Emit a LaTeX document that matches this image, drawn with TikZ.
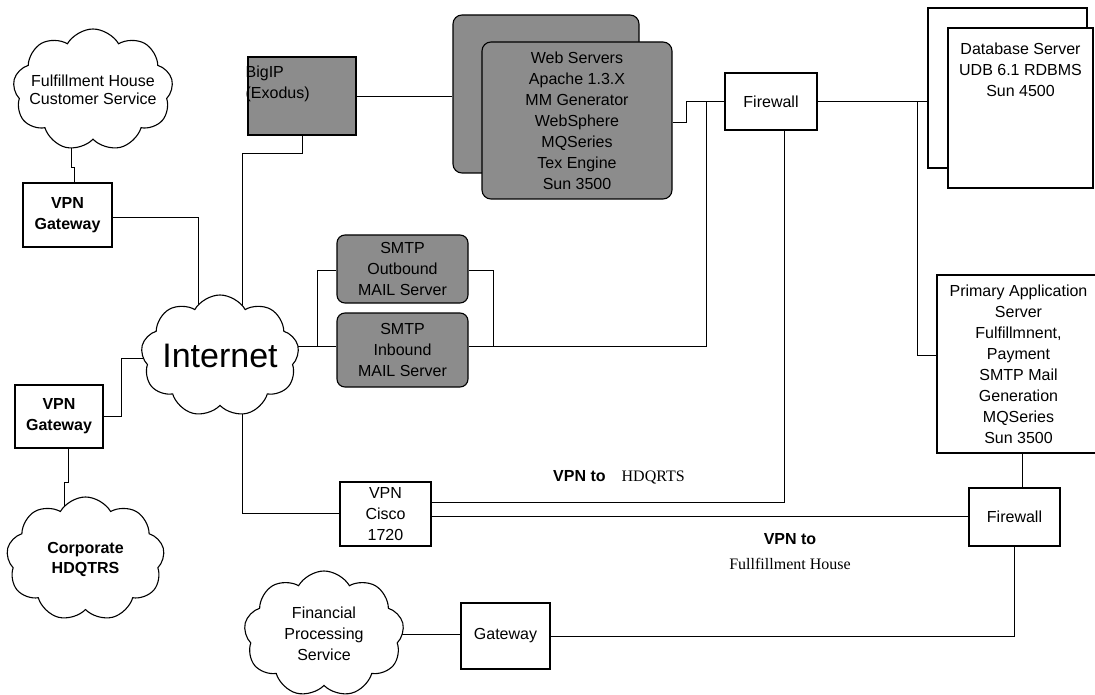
\documentclass[tikz,border=0pt]{standalone}
\usepackage{fontspec}
\setmainfont{Liberation Sans}
\newfontfamily\serifface{Liberation Serif}
\usetikzlibrary{shapes.symbols, backgrounds}
\tikzset{
  netbox/.style={draw, line width=1.1pt, fill=white, inner sep=2pt, align=center,
    font=\fontsize{16}{21}\selectfont},
  shadedbox/.style={netbox, fill=black!45, rounded corners=9pt},
  netcloud/.style={cloud, cloud puffs=9, cloud puff arc=120, cloud ignores aspect,
    draw, line width=1.1pt, fill=white, inner sep=0pt},
  cloudtext/.style={align=center, font=\fontsize{16}{21}\selectfont},
  link/.style={line width=0.9pt}
}

\begin{document}
\begin{tikzpicture}[x=1pt, y=-1pt]
  \useasboundingbox (0,0) rectangle (1095,695);
  % left side
  \node[netcloud, minimum width=160pt, minimum height=122pt,
    label={[cloudtext, font=\fontsize{16}{18}\selectfont]center:Fulfillment House\\Customer Service}] (fhcloud) at (93,90) {};
  \node[netbox, minimum width=89pt, minimum height=64pt, font=\bfseries\fontsize{16}{21}\selectfont] (vpngw1) at (67.5,215) {VPN\\Gateway};
  \node[netcloud, minimum width=158pt, minimum height=122pt,
    label={[font=\fontsize{34}{40}\selectfont]center:Internet}] (internet) at (220,356) {};
  \node[netbox, minimum width=88pt, minimum height=63pt, font=\bfseries\fontsize{16}{21}\selectfont] (vpngw2) at (59,416.5) {VPN\\Gateway};
  \node[netcloud, minimum width=158pt, minimum height=124pt,
    label={[cloudtext, font=\bfseries\fontsize{16}{20}\selectfont]center:Corporate\\HDQTRS}] (corp) at (85.5,559) {};
  % hosted servers
  \node[shadedbox, sharp corners, minimum width=108pt, minimum height=78pt] (bigip) at (302,96) {};
  \node[anchor=north west, inner sep=0pt, align=left, font=\fontsize{16}{21}\selectfont] (bigiptext) at ([xshift=-2pt, yshift=-9pt]bigip.north west) {BigIP\\(Exodus)};
  \node[shadedbox, minimum width=186pt, minimum height=158pt] (webback) at (546,94) {};
  \node[shadedbox, minimum width=190pt, minimum height=157pt] (webfront) at (577,120.5)
    {Web Servers\\Apache 1.3.X\\MM Generator\\WebSphere\\MQSeries\\Tex Engine\\Sun 3500};
  \node[shadedbox, rounded corners=8pt, minimum width=131pt, minimum height=68pt] (smtpout) at (402.5,269) {SMTP\\Outbound\\MAIL Server};
  \node[shadedbox, rounded corners=8pt, minimum width=131pt, minimum height=74pt] (smtpin) at (402.5,350) {SMTP\\Inbound\\MAIL Server};
  \node[netbox, minimum width=92pt, minimum height=57pt] (fw1) at (771,101.5) {Firewall};
  \node[netbox, minimum width=159pt, minimum height=160pt] (dbback) at (1007.5,88) {};
  \node[netbox, minimum width=145pt, minimum height=160pt] (dbfront) at (1020.5,108) {};
  \node[anchor=north, inner sep=0pt, align=center, font=\fontsize{16}{21}\selectfont] (dbtext) at ([yshift=-15pt]dbfront.north) {Database Server\\UDB 6.1 RDBMS\\Sun 4500};
  \node[netbox, minimum width=163pt, minimum height=178pt] (app) at (1018.5,364)
    {Primary Application\\Server\\Fulfillmnent,\\Payment\\SMTP Mail\\Generation\\MQSeries\\Sun 3500};
  \node[netbox, minimum width=91pt, minimum height=58pt] (fw2) at (1014.5,517) {Firewall};
  % bottom
  \node[netbox, minimum width=91pt, minimum height=64pt] (cisco) at (385.5,514) {VPN\\Cisco\\1720};
  \node[netcloud, minimum width=160pt, minimum height=126pt,
    label={[cloudtext]center:Financial\\Processing\\Service}] (fincloud) at (324,634) {};
  \node[netbox, minimum width=89pt, minimum height=66pt] (gw) at (505.5,636) {Gateway};
  \node[anchor=west, inner sep=0pt, font=\fontsize{16}{21}\selectfont] (vpnhq) at (553,477)
    {\textbf{VPN to}\hspace{16pt}{\serifface HDQRTS}};
  \node[align=center, inner sep=0pt, font=\fontsize{16}{25}\selectfont] (vpnfh) at (790,552)
    {\textbf{VPN to}\\{\serifface Fullfillment House}};
  \begin{scope}[on background layer, link]
    \draw ([xshift=-22pt]fhcloud.center) -- ++(0,77) -- ++(3,0) -- ([xshift=6.5pt]vpngw1.north);
    \draw ([yshift=-2pt]vpngw1.east) -| ([xshift=-22pt]internet.center);
    \draw ([xshift=22pt]internet.center) |- ([yshift=-18pt]bigip.south) -- (bigip.south);
    \draw (bigip.east) -- (bigip.east -| webback.west);
    \draw ([yshift=-1.5pt]webfront.east) -- ++(14,0) |- (fw1.west);
    \coordinate (fwjoin) at ([xshift=-18pt]fw1.west);
    \draw (fwjoin) |- ([yshift=4pt]smtpin.east);
    \draw ([yshift=-1pt]smtpout.east) -| ([xshift=25pt, yshift=4pt]smtpin.east);
    \draw ([yshift=10pt]internet.center) -- ([yshift=4pt]smtpin.west);
    \draw ([xshift=-19pt, yshift=4pt]smtpin.west) |- ([yshift=-1pt]smtpout.west);
    \draw ([yshift=-2pt]internet.center) -- ++(-99,0) |- (vpngw2.east);
    \draw ([xshift=9pt]vpngw2.south) -- ++(0,34) -- ++(-4,0) -- ([xshift=-21.5pt]corp.center);
    \draw ([xshift=22pt]internet.center) |- ([yshift=1pt]cisco.west);
    \draw ([yshift=12pt]cisco.east) -| ([xshift=13pt]fw1.south);
    \draw ([yshift=-2pt]cisco.east) -- ([yshift=1pt]fw2.west);
    \draw (fw1.east) -- (fw1.east -| dbback.west);
    \draw ([xshift=100pt]fw1.east) |- ([yshift=9pt]app.west);
    \draw ([xshift=3.5pt]app.south) -- ([xshift=7.5pt]fw2.north);
    \draw (fw2.south) |- (gw.east);
    \draw (fincloud.center) -- (fincloud.center -| gw.west);
  \end{scope}
\end{tikzpicture}
\end{document}
